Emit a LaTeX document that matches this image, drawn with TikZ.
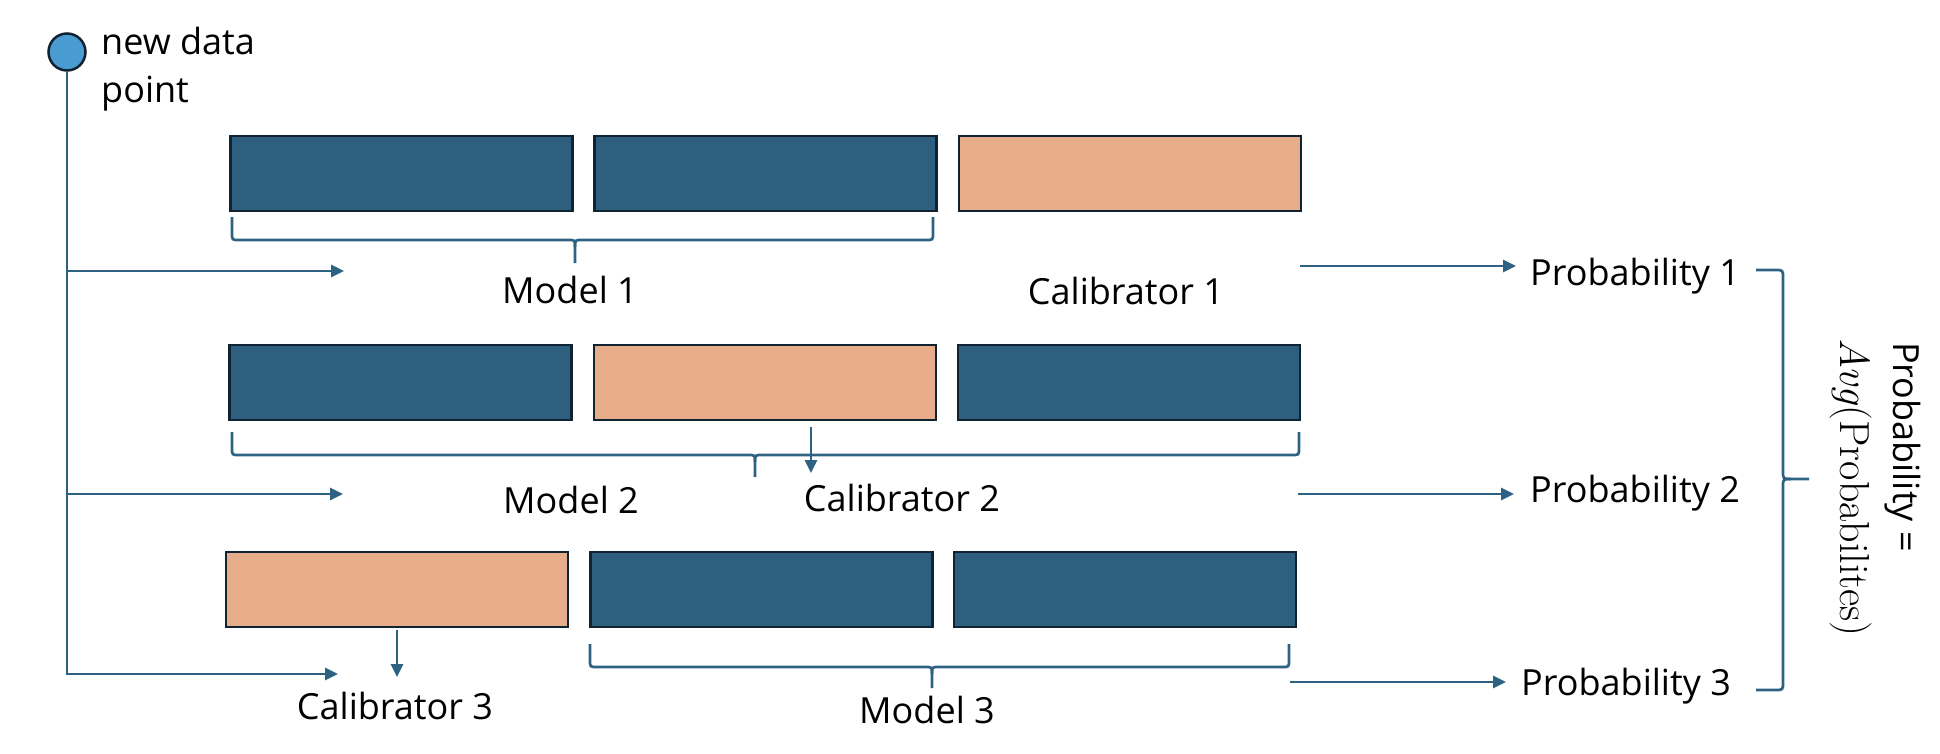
\documentclass[tikz,border=0pt]{standalone}
\usepackage{fontspec}
\newfontfamily\osans{Open Sans}
\usetikzlibrary{arrows.meta}
\definecolor{boxblue}{HTML}{2E5F7F}
\definecolor{peach}{HTML}{E7AC89}
\definecolor{boxedge}{HTML}{0F2333}
\definecolor{linec}{HTML}{2E6283}
\definecolor{dotblue}{HTML}{4A9BD0}
\newcommand\mybrace[6]{%
  \draw[brace] (#1,#3) -- (#1,#4-7) .. controls (#1,#4) .. (#1+7,#4) -- (#5-7,#4) .. controls (#5,#4) .. (#5,#4+7) -- (#5,#6);
  \draw[brace] (#2,#3) -- (#2,#4-7) .. controls (#2,#4) .. (#2-7,#4) -- (#5+7,#4) .. controls (#5,#4) .. (#5,#4+7);
}
\begin{document}
\begin{tikzpicture}[x=1pt,y=-1pt,
  lbl/.style={font=\osans\fontsize{36}{48}\selectfont, inner sep=0pt},
  box/.style={draw=boxedge, line width=2.7pt, minimum width=342pt, minimum height=75pt, inner sep=0pt},
  mbox/.style={box, fill=boxblue},
  cbox/.style={box, fill=peach},
  conn/.style={draw=linec, line width=2.7pt, -{Triangle[length=13pt,width=12pt]}},
  brace/.style={draw=linec, line width=2.7pt}]
\useasboundingbox (0,0) rectangle (1940,754);
% data point
\node[circle, draw=boxedge, fill=dotblue, line width=2.5pt, minimum size=37pt, inner sep=0pt] (pt) at (67,52) {};
\node[lbl, align=left, anchor=north west] (ndp) at (101,27) {new data\\point};
% row 1
\node[mbox] (r1a) at (401.5,173.5) {};
\node[mbox] (r1b) at (765.5,173.5) {};
\node[cbox] (r1c) at (1130,173.5) {};
% row 2
\node[mbox] (r2a) at (400.5,382.5) {};
\node[cbox] (r2b) at (765,382.5) {};
\node[mbox] (r2c) at (1129,382.5) {};
% row 3
\node[cbox] (r3a) at (397,589.5) {};
\node[mbox] (r3b) at (761.5,589.5) {};
\node[mbox] (r3c) at (1125,589.5) {};
% braces
\mybrace{232}{933}{217}{240}{575}{263}
\mybrace{232}{1299}{432}{455}{755}{477}
\mybrace{590}{1289}{644}{667}{932}{688}
% labels
\node[lbl, anchor=base] (m1) at (570,303) {Model 1};
\node[lbl, anchor=base] (k1) at (1126,304) {Calibrator 1};
\node[lbl, anchor=base] (m2) at (571,513) {Model 2};
\node[lbl, anchor=base] (k2) at (902,511) {Calibrator 2};
\node[lbl, anchor=base] (k3) at (395,719) {Calibrator 3};
\node[lbl, anchor=base] (m3) at (927,723) {Model 3};
\node[lbl, anchor=base west] (p1) at (1530,285) {Probability 1};
\node[lbl, anchor=base west] (p2) at (1530,502) {Probability 2};
\node[lbl, anchor=base west] (p3) at (1521,695) {Probability 3};
% input connectors
\coordinate (corner) at (67,674);
\coordinate (in3) at (338,674);
\draw[conn] (pt.south) -- (corner) -- (in3);
\coordinate (in1s) at (67,271);
\coordinate (in1e) at (344,271);
\draw[conn] (in1s) -- (in1e);
\coordinate (in2s) at (67,494);
\coordinate (in2e) at (343,494);
\draw[conn] (in2s) -- (in2e);
% calibrator arrows
\coordinate (ca2s) at (811,427);
\coordinate (ca2e) at (811,473);
\draw[conn] (ca2s) -- (ca2e);
\coordinate (ca3s) at (397,630);
\coordinate (ca3e) at (397,677);
\draw[conn] (ca3s) -- (ca3e);
% output arrows
\coordinate (o1s) at (1300,266);
\coordinate (o1e) at (1516,266);
\draw[conn] (o1s) -- (o1e);
\coordinate (o2s) at (1298,494);
\coordinate (o2e) at (1514,494);
\draw[conn] (o2s) -- (o2e);
\coordinate (o3s) at (1290,682);
\coordinate (o3e) at (1506,682);
\draw[conn] (o3s) -- (o3e);
% right brace
\draw[brace] (1756,270) -- (1775,270) .. controls (1783,270) .. (1783,278) -- (1783,471) .. controls (1783,479) .. (1791,479) -- (1809,479);
\draw[brace] (1791,479) .. controls (1783,479) .. (1783,487) -- (1783,682) .. controls (1783,690) .. (1775,690) -- (1756,690);
% result text
\node[lbl, rotate=-90, anchor=base west] (res1) at (1893,342) {Probability =};
\node[font=\rmfamily\fontsize{42}{48}\selectfont, inner sep=0pt, rotate=-90, anchor=base west] (res2) at (1840,338) {\textit{Avg}(Probabilites)};
\end{tikzpicture}
\end{document}
